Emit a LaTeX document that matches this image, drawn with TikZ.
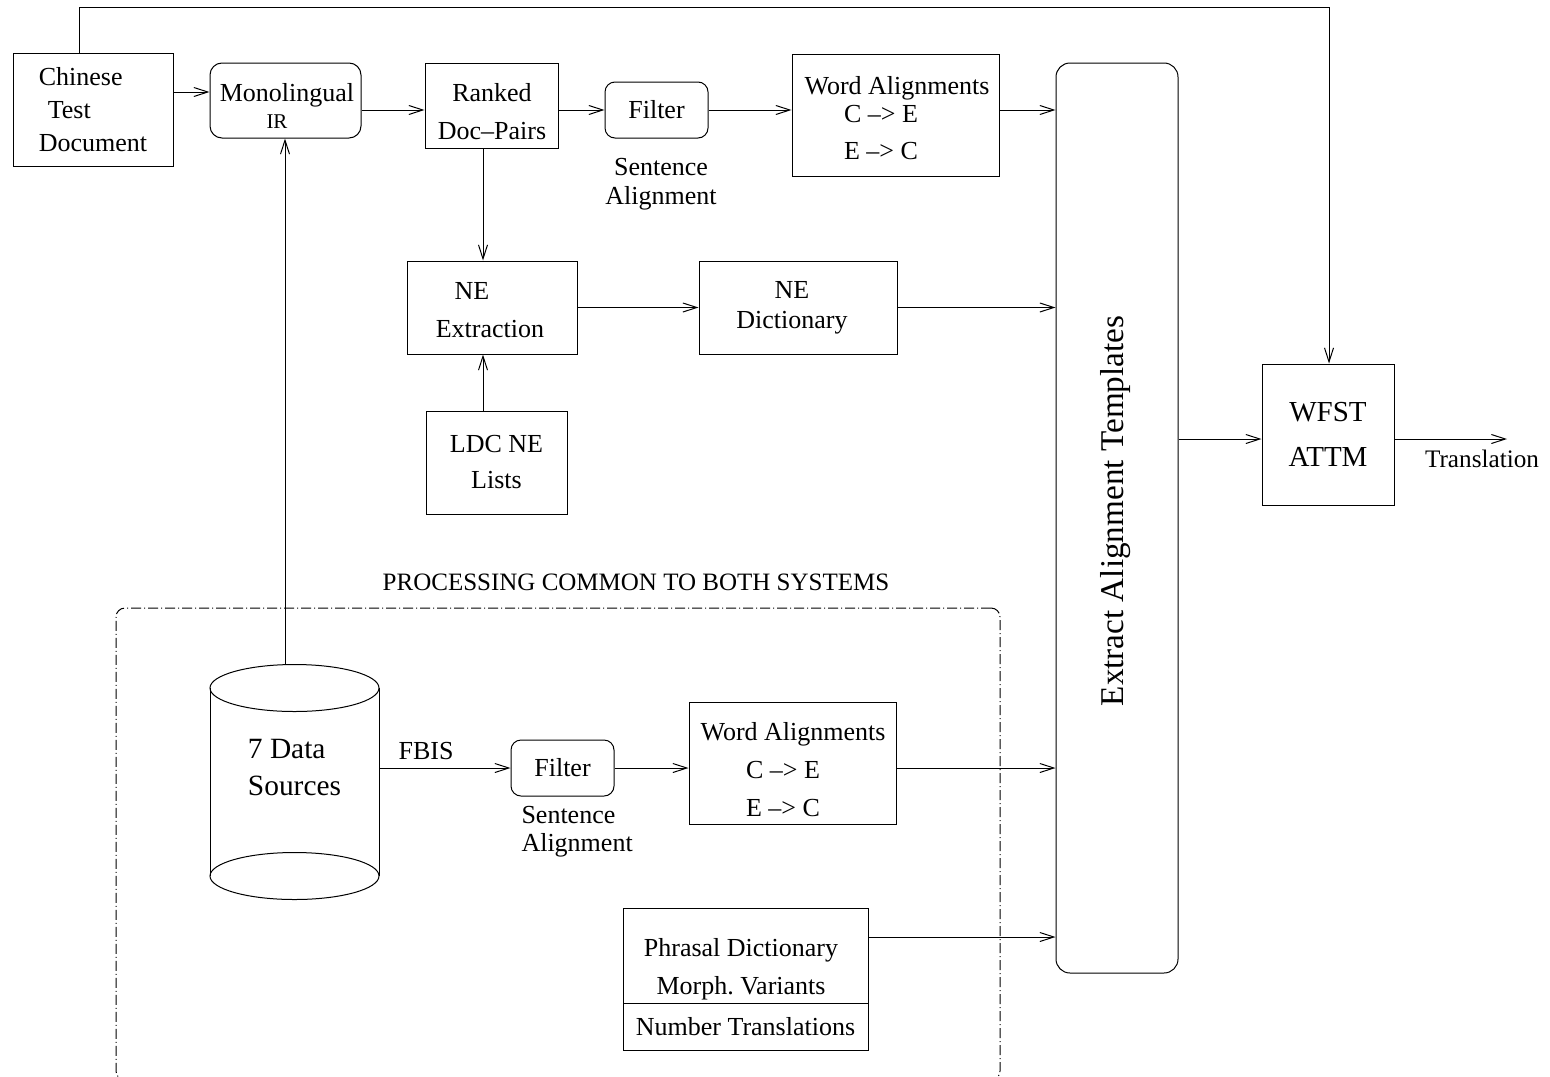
\documentclass[tikz,border=0pt]{standalone}
\usepackage{fontspec}
\setmainfont{Liberation Serif}
\usetikzlibrary{arrows.meta}
\newcommand\fsz[2]{\fontsize{#1}{#2}\selectfont}
\begin{document}
\begin{tikzpicture}[x=0.5pt,y=-0.5pt,
  line width=0.5pt,
  arr/.style={-{Straight Barb[length=7pt,width=4.5pt]}},
  box/.style={draw, inner sep=0pt, align=center, font=\fsz{13}{19}},
  rbox/.style={box, rounded corners=6pt},
  txt/.style={inner sep=0pt, align=center, font=\fsz{13}{19}},
  dashdot/.style={dash pattern=on 5pt off 1.5pt on 0.5pt off 1.5pt}
]
\useasboundingbox (0,0) rectangle (1550,1076);

% top row
\node[box, minimum width=80pt, minimum height=56.5pt, align=left, font=\fsz{13}{16.5}] (cd) at (93,109.5) {Chinese\\\hspace*{4.5pt}Test\\Document};
\node[rbox, minimum width=75.5pt, minimum height=37.5pt] (mono) at (285.5,100.5) {};
\node[txt, font=\fsz{13}{13.5}] (monot) at (287,105.5) {Monolingual\\{\fsz{10.5}{13.5}IR\kern10pt}};
\node[box, minimum width=66.5pt, minimum height=42.5pt] (ranked) at (491.5,105.5) {};
\node[txt] (rankedt) at (492,111.5) {Ranked\\Doc–Pairs};
\node[rbox, rounded corners=5pt, minimum width=51.5pt, minimum height=28pt] (filt1) at (656.5,110) {Filter};
\node[txt, font=\fsz{13}{14.5}] (sa1) at (661,184) {Sentence\\Alignment};
\node[box, minimum width=103.5pt, minimum height=61pt] (wa1) at (895.5,115) {};
\node[txt, font=\fsz{13}{14}] (wa1t) at (897,118) {Word Alignments\\C –> E\kern16pt\\[4.5pt]E –> C\kern16pt};

% extract
\node[box, rounded corners=7pt, minimum width=61pt, minimum height=455pt] (extract) at (1117,518) {};
\node[txt, rotate=90, font=\fsz{16.6}{19}] (extl) at (1115.5,511) {Extract Alignment Templates};

% WFST
\node[box, minimum width=66pt, minimum height=70.5pt, font=\fsz{14.5}{22.5}] (wfst) at (1328,434.5) {WFST\\ATTM};
\node[txt, font=\fsz{12.6}{15}] (transl) at (1482,459) {Translation};
\coordinate (outp) at (1507,439);
\coordinate (topR) at (1329,7);

% NE
\node[box, minimum width=85pt, minimum height=46.5pt] (neext) at (492,307.5) {};
\node[txt] (neextt) at (490,310.5) {NE\kern18pt\\Extraction};
\node[box, minimum width=99pt, minimum height=46.5pt, font=\fsz{13}{15}] (nedict) at (798,307.5) {NE\hspace*{6pt}\\Dictionary\hspace*{6pt}};
\node[box, minimum width=70.5pt, minimum height=51.5pt, font=\fsz{13}{18}] (ldc) at (496.5,462.5) {LDC NE\\Lists};

% common processing
\node[draw, dashdot, rounded corners=4.5pt, minimum width=442pt, minimum height=236pt, inner sep=0pt] (common) at (558,844) {};
\node[txt, font=\fsz{12.5}{15}] (commonl) at (636,582) {PROCESSING COMMON TO BOTH SYSTEMS};

% cylinder
\draw (210,688) -- (210,876) (379,688) -- (379,876);
\draw (294.5,688) ellipse [x radius=42.25pt, y radius=11.75pt];
\draw (294.5,876) ellipse [x radius=42.25pt, y radius=11.75pt];
\node[txt, align=left, font=\fsz{14.7}{18.5}, minimum width=84.5pt] (cyl) at (294.5,768) {7 Data\\Sources};
\coordinate (cyltop) at (285,664.5);

\node[txt] (fbis) at (426,751) {FBIS};
\node[rbox, rounded corners=5pt, minimum width=51.5pt, minimum height=28pt] (filt2) at (562.5,768) {Filter};
\node[txt, align=left, anchor=west, font=\fsz{13}{14}] (sa2) at (521,832) {Sentence\\Alignment};
\node[box, minimum width=103.5pt, minimum height=61pt] (wa2) at (792.5,763) {};
\node[txt] (wa2t) at (793,770) {Word Alignments\\C –> E\kern10pt\\E –> C\kern10pt};

% phrasal
\node[draw, inner sep=0pt, minimum width=122.5pt, minimum height=47.5pt] (phrA) at (745.5,955.5) {};
\node[box, minimum width=122.5pt, minimum height=23.5pt] (phrB) at (745.5,1026.5) {Number Translations};
\node[txt] (phrt) at (741,969) {Phrasal Dictionary\\Morph.\ Variants};

% connectors
\draw[arr] (cd.east |- 0,92) -- (mono.west |- 0,92);
\draw[arr] (mono.east |- 0,110) -- (ranked.west |- 0,110);
\draw[arr] (filt1.west -| ranked.east) -- (filt1.west);
\draw[arr] (filt1.east) -- (filt1.east -| wa1.west);
\draw[arr] (wa1.east |- 0,110) -- (extract.west |- 0,110);
\draw[arr] (ranked.south -| 483,0) -- (neext.north -| 483,0);
\draw[arr] (ldc.north -| 483,0) -- (neext.south -| 483,0);
\draw[arr] (neext.east) -- (nedict.west);
\draw[arr] (nedict.east) -- (nedict.east -| extract.west);
\draw[arr] (cd.north -| 79,0) |- (topR) -- (wfst.north -| topR);
\draw[arr] (extract.east |- 0,439) -- (wfst.west |- 0,439);
\draw[arr] (wfst.east |- 0,439) -- (outp);
\draw[arr] (cyltop) -- (mono.south -| cyltop);
\draw[arr] (cyl.east) -- (filt2.west);
\draw[arr] (filt2.east) -- (wa2.west |- filt2.east);
\draw[arr] (wa2.east |- 0,768) -- (extract.west |- 0,768);
\draw[arr] (phrA.east |- 0,937) -- (extract.west |- 0,937);
\end{tikzpicture}
\end{document}
